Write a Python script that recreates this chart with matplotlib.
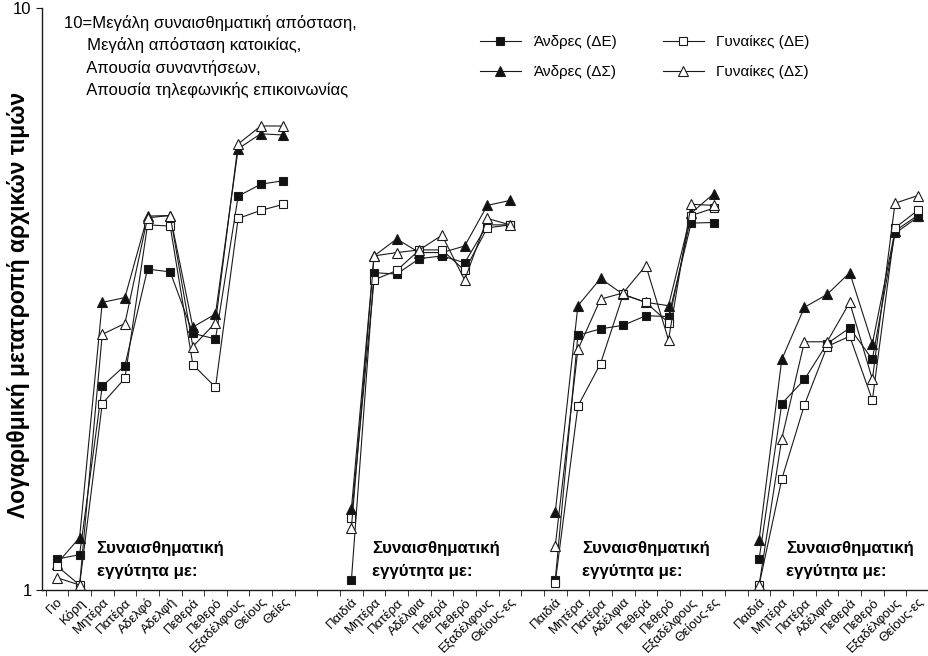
import numpy as np
import matplotlib
matplotlib.use("Agg")
import matplotlib.pyplot as plt

plt.rcParams['font.family'] = ['Liberation Sans', 'DejaVu Sans']

# ----------------------------
# Data (log scale 1..10)
# ----------------------------
group_labels = [
    ["Γιο", "Κόρη", "Μητέρα", "Πατέρα", "Αδελφό", "Αδελφή", "Πεθερά", "Πεθερό",
     "Εξαδέλφους", "Θείους", "Θείες"],
    ["Παιδιά", "Μητέρα", "Πατέρα", "Αδέλφια", "Πεθερά", "Πεθερό", "Εξαδέλφους", "Θείους-ες"],
    ["Παιδιά", "Μητέρα", "Πατέρα", "Αδέλφια", "Πεθερά", "Πεθερό", "Εξαδέλφους", "Θείους-ες"],
    ["Παιδιά", "Μητέρα", "Πατέρα", "Αδέλφια", "Πεθερά", "Πεθερό", "Εξαδέλφους", "Θείους-ες"],
]
group_starts = [0, 13, 22, 31]

men_de = [
    [1.13, 1.15, 2.24, 2.43, 3.56, 3.52, 2.76, 2.70, 4.75, 4.98, 5.05],
    [1.04, 3.51, 3.49, 3.71, 3.75, 3.65, 4.24, 4.24],
    [1.04, 2.74, 2.81, 2.85, 2.96, 2.95, 4.27, 4.28],
    [1.13, 2.09, 2.30, 2.65, 2.82, 2.49, 4.10, 4.37],
]
women_de = [
    [1.10, 1.02, 2.09, 2.31, 4.24, 4.22, 2.44, 2.23, 4.35, 4.49, 4.60],
    [1.33, 3.41, 3.54, 3.84, 3.84, 3.54, 4.19, 4.24],
    [1.03, 2.07, 2.45, 3.22, 3.12, 2.88, 4.40, 4.53],
    [1.02, 1.55, 2.08, 2.62, 2.73, 2.12, 4.19, 4.49],
]
men_ds = [
    [1.11, 1.23, 3.12, 3.18, 4.39, 4.40, 2.83, 2.98, 5.73, 6.08, 6.05],
    [1.38, 3.75, 4.01, 3.80, 3.80, 3.90, 4.58, 4.67],
    [1.36, 3.08, 3.43, 3.22, 3.12, 3.08, 4.44, 4.80],
    [1.22, 2.49, 3.06, 3.22, 3.51, 2.65, 4.14, 4.40],
]
women_ds = [
    [1.05, 1.02, 2.75, 2.87, 4.36, 4.40, 2.62, 2.88, 5.84, 6.27, 6.27],
    [1.28, 3.75, 3.80, 3.84, 4.07, 3.41, 4.35, 4.24],
    [1.19, 2.59, 3.16, 3.24, 3.61, 2.69, 4.60, 4.58],
    [1.02, 1.82, 2.67, 2.67, 3.12, 2.30, 4.62, 4.76],
]

series = [
    ("Άνδρες (ΔΕ)", men_de, dict(marker='s', mfc='#111111', ms=5.5)),
    ("Άνδρες (ΔΣ)", men_ds, dict(marker='^', mfc='#111111', ms=6.5)),
    ("Γυναίκες (ΔΕ)", women_de, dict(marker='s', mfc='white', ms=5.5)),
    ("Γυναίκες (ΔΣ)", women_ds, dict(marker='^', mfc='white', ms=7)),
]

# ----------------------------
# Plot
# ----------------------------
fig = plt.figure(figsize=(9.29, 6.56), dpi=100)
ax = fig.add_axes([0.0452, 0.1006, 0.9548, 0.8872])

ink = '#1a1a1a'
for name, values, style in series:
    for g, start in enumerate(group_starts):
        x = np.arange(len(values[g])) + start
        ax.plot(x, values[g], color=ink, lw=0.8, mec=ink, mew=0.8,
                label=name if g == 0 else None, **style)

ax.set_yscale('log')
ax.set_ylim(1, 10)
ax.set_xlim(-0.66, 38.4)

ax.set_yticks([1, 10])
ax.set_yticklabels(["1", "10"], fontsize=12)
ax.yaxis.set_minor_locator(matplotlib.ticker.NullLocator())
ax.tick_params(axis='y', length=4, color=ink)

# category labels, ticks in between categories
positions, labels = [], []
for start, labs in zip(group_starts, group_labels):
    positions += list(np.arange(len(labs)) + start)
    labels += labs
ax.set_xticks(positions)
ax.set_xticklabels(labels, rotation=45, ha='right', rotation_mode='anchor', fontsize=9.5)
ax.tick_params(axis='x', which='major', length=0, pad=4)
ax.set_xticks(np.arange(-0.5, 38.6, 1), minor=True)
ax.tick_params(axis='x', which='minor', length=4, color=ink)

for side in ['top', 'right']:
    ax.spines[side].set_visible(False)
for side in ['left', 'bottom']:
    ax.spines[side].set_color(ink)
    ax.spines[side].set_linewidth(1.0)

ax.set_ylabel("Λογαριθμική μετατροπή αρχικών τιμών", fontsize=16.5,
              fontweight='bold')
ax.yaxis.set_label_coords(-0.014, 0.49)

# group captions
caption_x = [1.75, 13.9, 23.2, 32.2]
for cx in caption_x:
    ax.text(cx, 1.215, "Συναισθηματική\nεγγύτητα με:", fontsize=12.2,
            fontweight='bold', va='top', ha='left', linespacing=1.7)

# note on the scale
ax.text(0.025, 0.988,
        "10=Μεγάλη συναισθηματική απόσταση,\n"
        "     Μεγάλη απόσταση κατοικίας,\n"
        "     Απουσία συναντήσεων,\n"
        "     Απουσία τηλεφωνικής επικοινωνίας",
        transform=ax.transAxes, fontsize=12, va='top', ha='left', linespacing=1.5)

ax.legend(ncol=2, frameon=False, fontsize=11, loc='upper left',
          bbox_to_anchor=(0.478, 0.977), columnspacing=3.0, handlelength=2.7,
          labelspacing=1.05)

plt.savefig("out.png", dpi=100)
